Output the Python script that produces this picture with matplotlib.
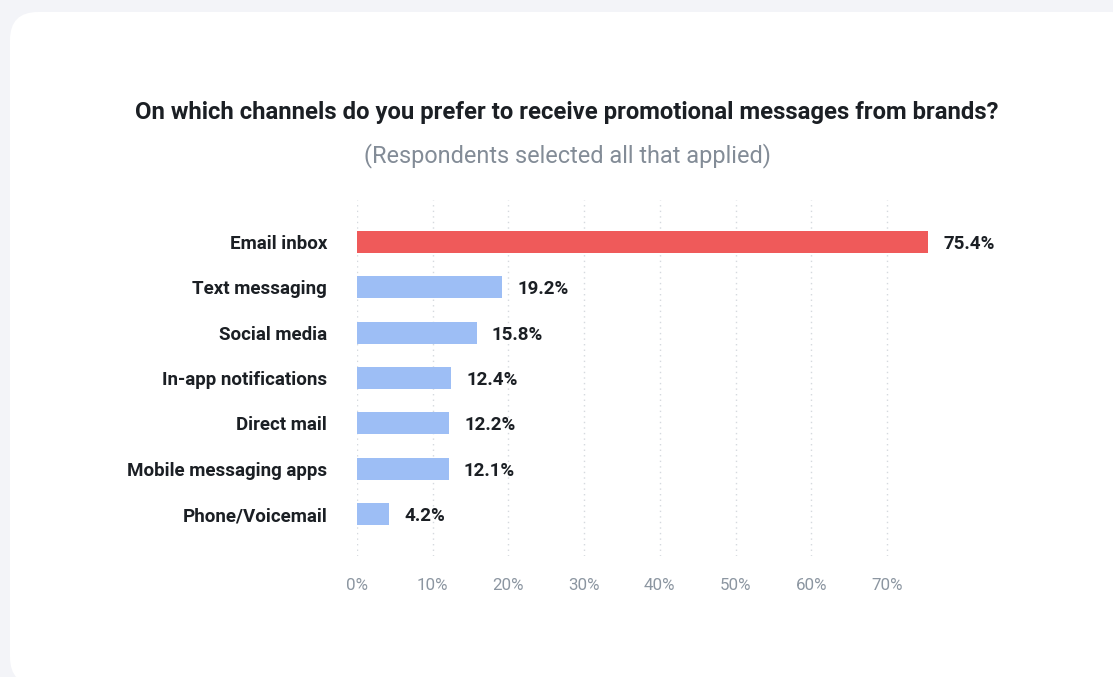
import matplotlib
matplotlib.use("Agg")
import matplotlib.pyplot as plt
from matplotlib.patches import FancyBboxPatch

# Survey data
channels = ["Email inbox", "Text messaging", "Social media", "In-app notifications",
            "Direct mail", "Mobile messaging apps", "Phone/Voicemail"]
shares = [75.4, 19.2, 15.8, 12.4, 12.2, 12.1, 4.2]
tick_values = [0, 10, 20, 30, 40, 50, 60, 70]
tick_labels = ["0%", "10%", "20%", "30%", "40%", "50%", "60%", "70%"]

title = "On which channels do you prefer to receive promotional messages from brands?"
subtitle = "(Respondents selected all that applied)"

W, H = 1113, 677
plt.rcParams["font.family"] = ["Roboto", "DejaVu Sans"]

fig = plt.figure(figsize=(W / 100, H / 100), dpi=100)
fig.patch.set_facecolor("#F3F4F8")

# Background card
bg = fig.add_axes([0, 0, 1, 1])
bg.set_xlim(0, W)
bg.set_ylim(H, 0)
bg.axis("off")
bg.add_patch(FancyBboxPatch((10, 12), 1130, 673,
                            boxstyle="round,pad=0,rounding_size=28",
                            facecolor="white", edgecolor="none"))

bg.text(567, 113, title, ha="center", va="center", fontsize=17.2,
        fontweight="bold", color="#1B1F24")
bg.text(567, 156, subtitle, ha="center", va="center", fontsize=16.9,
        fontweight="normal", color="#838C97")

# Bar chart
x0, px_per_unit = 357, 7.571
xmax = 80
ax_w = xmax * px_per_unit
top, bottom = 200, 556
ax = fig.add_axes([x0 / W, (H - bottom) / H, ax_w / W, (bottom - top) / H])
ax.set_facecolor("none")

n = len(channels)
pos = list(range(n))
colors = ["#EF5A5A"] + ["#9DBEF5"] * (n - 1)
ax.barh(pos, shares, height=0.49, color=colors, zorder=3)

pad = (42 / 45.5)
ax.set_ylim(n - 1 + pad, -pad)
ax.set_xlim(0, xmax)

for v in tick_values:
    ax.axvline(v, color="#D5D9DE", linewidth=1, linestyle=(0, (1, 3)), zorder=1)

ax.set_xticks(tick_values)
ax.set_xticklabels(tick_labels, fontsize=12.2, color="#8C96A1", fontweight="normal")
ax.set_yticks(pos)
ax.set_yticklabels(channels, fontsize=13.5, fontweight="bold", color="#1B1F24",
                   va="center_baseline")
ax.tick_params(axis="x", length=0, pad=15.5)
ax.tick_params(axis="y", length=0, pad=21.5)
for s in ax.spines.values():
    s.set_visible(False)

for p, v in zip(pos, shares):
    ax.annotate(f"{v}%", xy=(v, p), xytext=(11, 0), textcoords="offset points",
                ha="left", va="center_baseline", fontsize=13.5, fontweight="bold",
                color="#1B1F24")

fig.savefig("out.png", dpi=100, facecolor=fig.get_facecolor())
